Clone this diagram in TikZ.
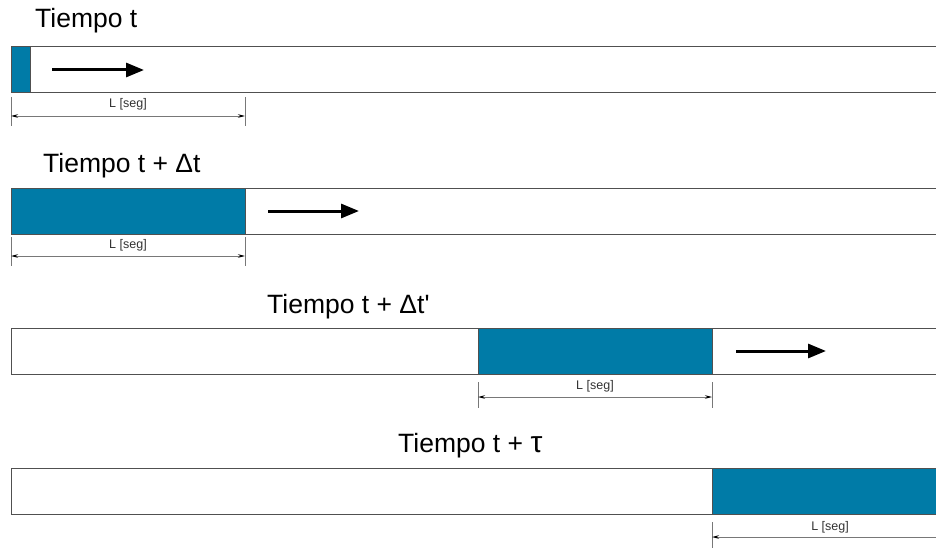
\documentclass[tikz,border=0pt]{standalone}
\usepackage{fontspec}
\setmainfont{Liberation Sans}
\usetikzlibrary{arrows.meta}
\definecolor{pulse}{RGB}{0,123,167}
\definecolor{edge}{RGB}{80,80,80}
\definecolor{dimgray}{RGB}{120,120,120}
\tikzset{
  bar/.style={draw=edge, line width=1pt, fill=white, minimum width=930pt,
    minimum height=46pt, inner sep=0pt, outer sep=0pt, anchor=north west},
  pulsebox/.style={draw=edge, line width=1pt, fill=pulse, minimum height=46pt,
    inner sep=0pt, outer sep=0pt, anchor=north west},
  title/.style={font=\fontsize{26.5}{30}\selectfont, inner sep=0pt, anchor=west},
  dimlabel/.style={font=\fontsize{12.5}{14}\selectfont, text=black!80, inner sep=0pt},
  motion/.style={line width=3pt, -{Triangle[length=18pt,width=14pt]}},
  tick/.style={draw=dimgray, line width=0.8pt},
  dimline/.style={draw=dimgray, line width=0.9pt,
    {Stealth[length=7pt,width=3.5pt,black]}-{Stealth[length=7pt,width=3.5pt,black]}},
  dimhalf/.style={draw=dimgray, line width=0.9pt, {Stealth[length=7pt,width=3.5pt,black]}-}
}
\begin{document}
\begin{tikzpicture}[x=1pt,y=-1pt]
\useasboundingbox (0,0) rectangle (936,548);

% ---- row 1: time t
\node[title] (t1) at (35,21) {Tiempo t};
\node[bar] (b1) at (11,47) {};
\node[pulsebox, minimum width=19pt] (p1) at (11,47) {};
\coordinate (a1s) at (52,70);
\coordinate (a1e) at (144,70);
\draw[motion] (a1s) -- (a1e);
\coordinate (d1l) at (11,116);
\coordinate (d1r) at (245,116);
\draw[tick] (11,97) -- (11,126) (245,97) -- (245,126);
\draw[dimline] (d1l) -- (d1r);
\node[dimlabel] (l1) at (128,104) {L [seg]};

% ---- row 2: time t + Δt
\node[title] (t2) at (43,166) {Tiempo t + Δt};
\node[bar] (b2) at (11,188) {};
\node[pulsebox, minimum width=234pt] (p2) at (11,188) {};
\coordinate (a2s) at (268,211);
\coordinate (a2e) at (359,211);
\draw[motion] (a2s) -- (a2e);
\coordinate (d2l) at (11,256);
\coordinate (d2r) at (245,256);
\draw[tick] (11,237) -- (11,266) (245,237) -- (245,266);
\draw[dimline] (d2l) -- (d2r);
\node[dimlabel] (l2) at (128,245) {L [seg]};

% ---- row 3: time t + Δt'
\node[title] (t3) at (267,307) {Tiempo t + Δt\textquotesingle};
\node[bar] (b3) at (11,328) {};
\node[pulsebox, minimum width=234pt] (p3) at (478,328) {};
\coordinate (a3s) at (736,351);
\coordinate (a3e) at (826,351);
\draw[motion] (a3s) -- (a3e);
\coordinate (d3l) at (478,397);
\coordinate (d3r) at (712,397);
\draw[tick] (478,382) -- (478,408) (712,382) -- (712,408);
\draw[dimline] (d3l) -- (d3r);
\node[dimlabel] (l3) at (595,386) {L [seg]};

% ---- row 4: time t + τ
\node[title] (t4) at (398,446) {Tiempo t + {\fontsize{30}{30}\selectfont τ}};
\node[bar] (b4) at (11,468) {};
\node[pulsebox, minimum width=240pt] (p4) at (712,468) {};
\coordinate (d4l) at (712,537);
\coordinate (d4r) at (940,537);
\draw[tick] (712,522) -- (712,548);
\draw[dimhalf] (d4l) -- (d4r);
\node[dimlabel] (l4) at (830,527) {L [seg]};
\end{tikzpicture}
\end{document}
